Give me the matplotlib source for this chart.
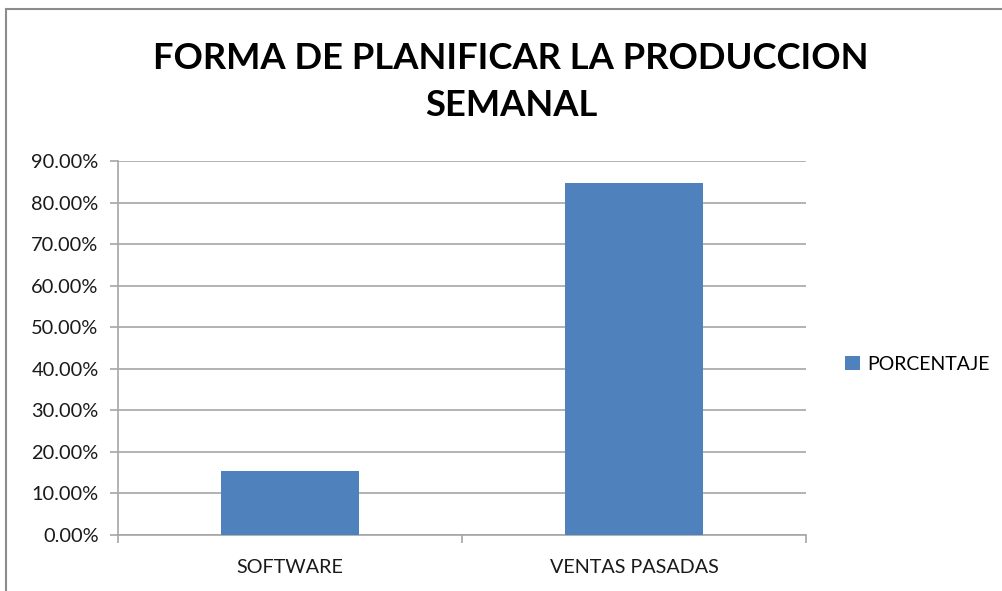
import matplotlib
matplotlib.use("Agg")
import matplotlib.pyplot as plt
from matplotlib.ticker import FuncFormatter, FixedLocator
from matplotlib.patches import Rectangle

categorias = ["SOFTWARE", "VENTAS PASADAS"]
porcentaje = [0.1538, 0.8462]
serie = "PORCENTAJE"
titulo = "FORMA DE PLANIFICAR LA PRODUCCION\nSEMANAL"

plt.rcParams['font.family'] = ['Lato', 'DejaVu Sans']

fig = plt.figure(figsize=(10.02, 5.91), dpi=100)
ax = fig.add_axes([0.1178, 0.0948, 0.6866, 0.6328])

gris = "#a6a6a6"
x = range(len(categorias))
ax.bar(x, porcentaje, width=0.4, color="#4f81bd", label=serie, zorder=3)

ax.set_xlim(-0.5, len(categorias) - 0.5)
ax.set_ylim(0, 0.9)
ax.set_yticks([i / 10 for i in range(10)])
ax.yaxis.set_major_formatter(FuncFormatter(lambda v, p: f"{v * 100:.2f}%"))
ax.yaxis.grid(True, color=gris, linewidth=1.2, zorder=0)

ax.set_xticks(list(x))
ax.set_xticklabels(categorias)
ax.xaxis.set_minor_locator(FixedLocator([-0.5, 0.5, 1.5]))
ax.tick_params(axis='x', which='major', length=0, pad=17, labelsize=14.2, labelcolor="#1a1a1a")
ax.tick_params(axis='x', which='minor', length=6, color=gris, width=1.2)
ax.tick_params(axis='y', length=6, color=gris, width=1.2, labelsize=14.4, labelcolor="#1a1a1a", pad=8)

for s in ["top", "right"]:
    ax.spines[s].set_visible(False)
for s in ["left", "bottom"]:
    ax.spines[s].set_color(gris)
    ax.spines[s].set_linewidth(1.2)

fig.text(0.51, 0.861, titulo, ha="center", va="center", fontsize=26.2, fontweight="bold",
         linespacing=1.5, color="black")

fig.legend(loc="center left", bbox_to_anchor=(0.826, 0.383), frameon=False,
           fontsize=14, handlelength=0.75, handleheight=0.75, handletextpad=0.4)

fig.patches.append(Rectangle((0.006, -0.05), 1.1, 1.035, transform=fig.transFigure,
                             fill=False, edgecolor="#8c8c8c", linewidth=1.5))

fig.savefig("out.png", dpi=100)
